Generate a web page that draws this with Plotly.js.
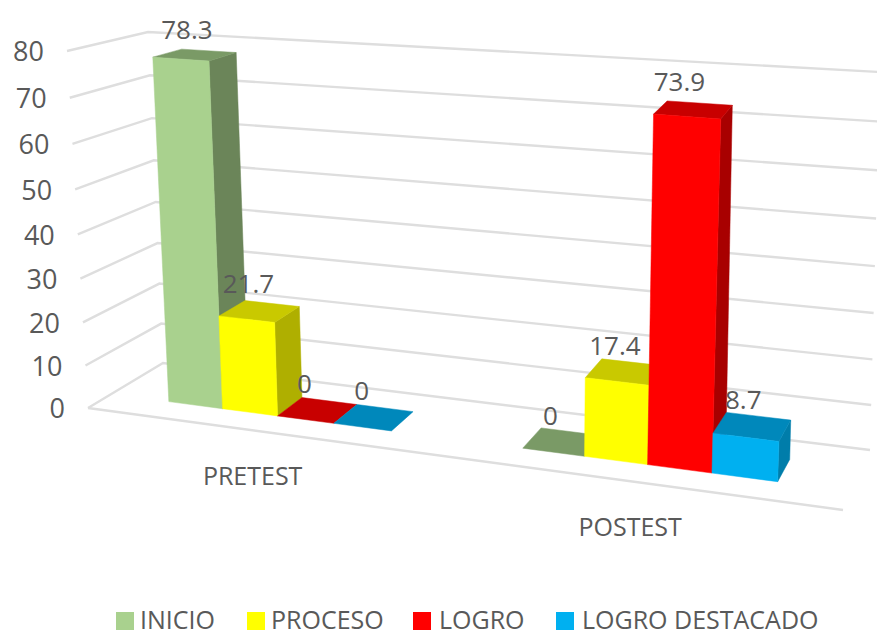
<!DOCTYPE html>
<html><head><meta charset="utf-8">
<script src="https://cdn.plot.ly/plotly-3.0.1.min.js"></script>
<style>html,body{margin:0;padding:0;background:#fff}</style></head>
<body><div id="chart" style="width:877px;height:632px"></div>
<script>
// ---- data
const categories = ['PRETEST', 'POSTEST'];
const seriesNames = ['INICIO', 'PROCESO', 'LOGRO', 'LOGRO DESTACADO'];
const inicio = [78.3, 0];
const proceso = [21.7, 17.4];
const logro = [0, 73.9];
const destacado = [0, 8.7];
const gridValues = [0, 10, 20, 30, 40, 50, 60, 70, 80];
const frontColors = ['#A9D18E', '#FFFF00', '#FF0000', '#00B0F0'];
const topColors = ['#7A9A66', '#C9C900', '#C80000', '#0088BB'];
const sideColors = ['#6B8559', '#AFAF00', '#A80000', '#007DAA'];
const legendX = [116, 247, 413, 556];
const legendTextX = [140, 271, 439, 582];

// ---- perspective box of the 3-D chart, in picture units
const FLB=[88,408], BLB=[163,363], BRB=[870,450], FRB=[843,510];
const FLH=[-21,-357], BLH=[-15,-331], BRH=[10,-378], FRH=[19,-400];
const maxV = 80, gapBars = 2.2, depth0 = 0.31, depth1 = 0.69;
const unitsPerCat = 4 + gapBars, totalUnits = unitsPerCat * categories.length;
const bil = (a,b,c,d,u,v,i) => (1-u)*(1-v)*a[i] + u*(1-v)*d[i] + (1-u)*v*b[i] + u*v*c[i];
function warpU(u){ return u + 0.135*u*(u-1); }
function warpH(t){ return t - 0.054*t*(1-t); }
function project(w, v, val){
  const u = warpU(w/totalUnits), t = warpH(val/maxV);
  return [
    bil(FLB,BLB,BRB,FRB,u,v,0) + t*bil(FLH,BLH,BRH,FRH,u,v,0),
    bil(FLB,BLB,BRB,FRB,u,v,1) + t*bil(FLH,BLH,BRH,FRH,u,v,1)
  ];
}
const traces = [];
function line(pts){
  traces.push({type:'scatter',mode:'lines',x:pts.map(p=>p[0]),y:pts.map(p=>p[1]),
    line:{color:'#DEDEDE',width:2.4},hoverinfo:'skip',showlegend:false});
}
function poly(pts,color){
  const c = pts.concat([pts[0]]);
  traces.push({type:'scatter',mode:'lines',x:c.map(p=>p[0]),y:c.map(p=>p[1]),fill:'toself',
    fillcolor:color,line:{color:color,width:0.5},hoverinfo:'skip',showlegend:false});
}
// grid
gridValues.forEach(g=>{
  line([project(0,0,g),project(0,1,g),project(totalUnits,1,g)]);
});
line([project(0,0,0),project(totalUnits,0,0)]);

// bars
const allSeries = [inicio,proceso,logro,destacado];
const labelDX = [[-8,-12],[-11,-10],[-13,-14],[-12,-9]];
const labelDY = [[-22,-23],[-25,-23],[-24,-25],[-24,-24]];
const lblX=[],lblY=[],lblT=[];
categories.forEach((c,ci)=>{
  allSeries.forEach((vals,si)=>{
    const val = vals[ci];
    const w0 = ci*unitsPerCat + gapBars/2 + si, w1 = w0+1;
    const a=project(w0,depth0,val), b=project(w1,depth0,val), d=project(w0,depth1,val), e=project(w1,depth1,val);
    if(val>0){
      poly([project(w1,depth0,0),project(w1,depth1,0),e,b],sideColors[si]);
    }
    poly([a,b,e,d],topColors[si]);
    if(val>0){
      poly([project(w0,depth0,0),project(w1,depth0,0),b,a],frontColors[si]);
    }
    const cx=(a[0]+b[0]+d[0]+e[0])/4, cy=(a[1]+b[1]+d[1]+e[1])/4;
    lblX.push(cx+labelDX[si][ci]); lblY.push(cy+labelDY[si][ci]); lblT.push(String(val));
  });
});
const font = s => ({family:'"Open Sans",sans-serif',size:s,color:'#595959'});
// value labels
traces.push({type:'scatter',mode:'text',x:lblX,y:lblY,text:lblT,textposition:'middle center',cliponaxis:false,
  textfont:font(26),hoverinfo:'skip',showlegend:false});
// value-axis tick labels
const tk = gridValues.map(g=>project(0,0,g));
traces.push({type:'scatter',mode:'text',x:tk.map(p=>p[0]-23),y:tk.map(p=>p[1]+3.5),text:gridValues.map(String),cliponaxis:false,
  textposition:'middle left',textfont:font(27),hoverinfo:'skip',showlegend:false});
// category labels
const cp = categories.map((c,i)=>project((i+0.5)*unitsPerCat,0,0));
traces.push({type:'scatter',mode:'text',x:cp.map(p=>p[0]-5),y:cp.map(p=>p[1]+48),text:categories,cliponaxis:false,
  textposition:'middle center',textfont:font(25),hoverinfo:'skip',showlegend:false});
// legend keys
seriesNames.forEach((n,i)=>{
  traces.push({type:'scatter',mode:'markers',x:[legendX[i]+9],y:[621],
    marker:{symbol:'square',size:18,color:frontColors[i]},hoverinfo:'skip',showlegend:false});
  traces.push({type:'scatter',mode:'text',x:[legendTextX[i]],y:[623],text:[n],cliponaxis:false,
    textposition:'middle right',textfont:font(25),hoverinfo:'skip',showlegend:false});
});
const hidden = {visible:false,fixedrange:true};
Plotly.newPlot('chart',traces,{
  width:877,height:632,margin:{l:0,r:0,t:0,b:0},paper_bgcolor:'#fff',plot_bgcolor:'#fff',showlegend:false,
  xaxis:Object.assign({range:[0,877]},hidden),
  yaxis:Object.assign({range:[632,0]},hidden)
},{displayModeBar:false,staticPlot:true});
</script></body></html>
